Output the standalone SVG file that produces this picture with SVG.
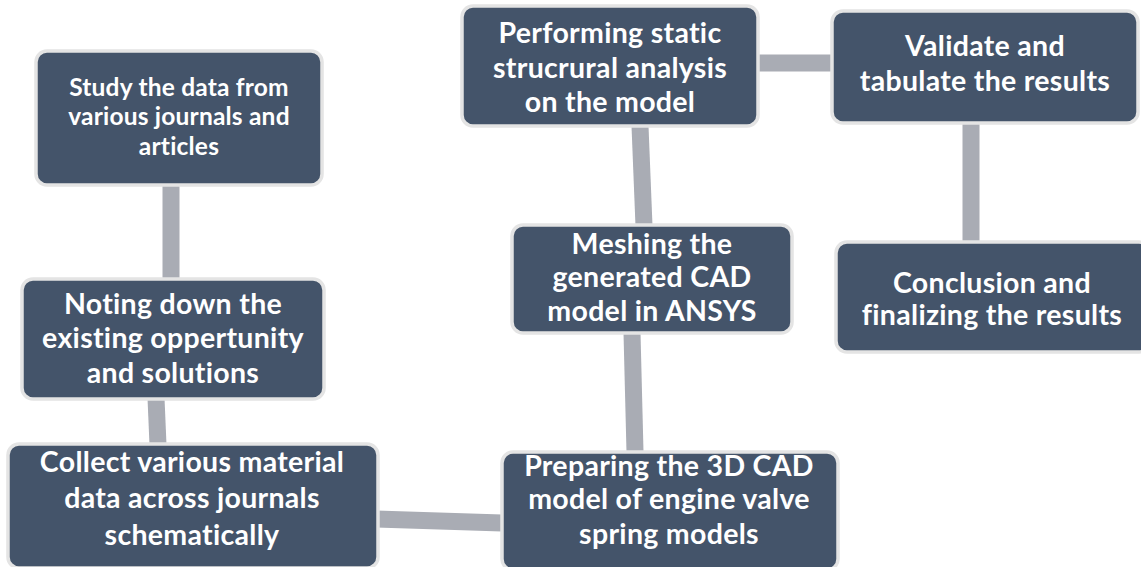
<svg xmlns="http://www.w3.org/2000/svg" width="1141" height="567" viewBox="0 0 1141 567">
<style>
.box{fill:#44546A;stroke:#E4E4E4;stroke-width:3.5}
.t{font-family:Lato,"Liberation Sans",sans-serif;font-weight:bold;fill:#FFFFFF;text-anchor:middle;font-size:28.5px;letter-spacing:0.3px}
.s{font-size:24.5px;letter-spacing:0.2px}
.c{stroke:#A9ACB4;stroke-width:17;fill:none}
</style>
<rect width="1141" height="567" fill="#FFFFFF"/>
<g id="connectors">
<line class="c" x1="171" y1="185" x2="171" y2="280"/>
<line class="c" x1="156" y1="398" x2="158" y2="445"/>
<line class="c" x1="376" y1="519" x2="502" y2="523"/>
<line class="c" x1="635" y1="452" x2="632" y2="333"/>
<line class="c" x1="644" y1="226" x2="640" y2="126"/>
<line class="c" x1="757" y1="63" x2="832" y2="63"/>
<line class="c" x1="971" y1="123" x2="971" y2="242"/>
</g>
<g id="n1">
<rect class="box" x="36" y="51" width="286" height="134" rx="11"/>
<text class="t s" x="179" y="96">Study the data from</text>
<text class="t s" x="179" y="125">various journals and</text>
<text class="t s" x="179" y="155">articles</text>
</g>
<g id="n2">
<rect class="box" x="22" y="279" width="302" height="120" rx="11"/>
<text class="t" x="173" y="314">Noting down the</text>
<text class="t" x="173" y="348">existing oppertunity</text>
<text class="t" x="173" y="383">and solutions</text>
</g>
<g id="n3">
<rect class="box" x="8" y="444" width="370" height="124" rx="11"/>
<text class="t" x="192" y="472">Collect various material</text>
<text class="t" x="192" y="508">data across journals</text>
<text class="t" x="192" y="545">schematically</text>
</g>
<g id="n4">
<rect class="box" x="502" y="452" width="336" height="118" rx="11"/>
<text class="t" x="669" y="476">Preparing the 3D CAD</text>
<text class="t" x="669" y="509">model of engine valve</text>
<text class="t" x="669" y="544">spring models</text>
</g>
<g id="n5">
<rect class="box" x="512" y="225" width="280" height="108" rx="11"/>
<text class="t" x="652" y="254">Meshing the</text>
<text class="t" x="652" y="287">generated CAD</text>
<text class="t" x="652" y="321">model in ANSYS</text>
</g>
<g id="n6">
<rect class="box" x="462" y="6" width="296" height="120" rx="11"/>
<text class="t" x="610" y="43">Performing static</text>
<text class="t" x="610" y="78">strucrural analysis</text>
<text class="t" x="610" y="112">on the model</text>
</g>
<g id="n7">
<rect class="box" x="832" y="11" width="306" height="112" rx="11"/>
<text class="t" x="985" y="56">Validate and</text>
<text class="t" x="985" y="91">tabulate the results</text>
</g>
<g id="n8">
<rect class="box" x="836" y="242" width="314" height="110" rx="11"/>
<text class="t" x="992" y="293">Conclusion and</text>
<text class="t" x="992" y="325">finalizing the results</text>
</g>
</svg>
